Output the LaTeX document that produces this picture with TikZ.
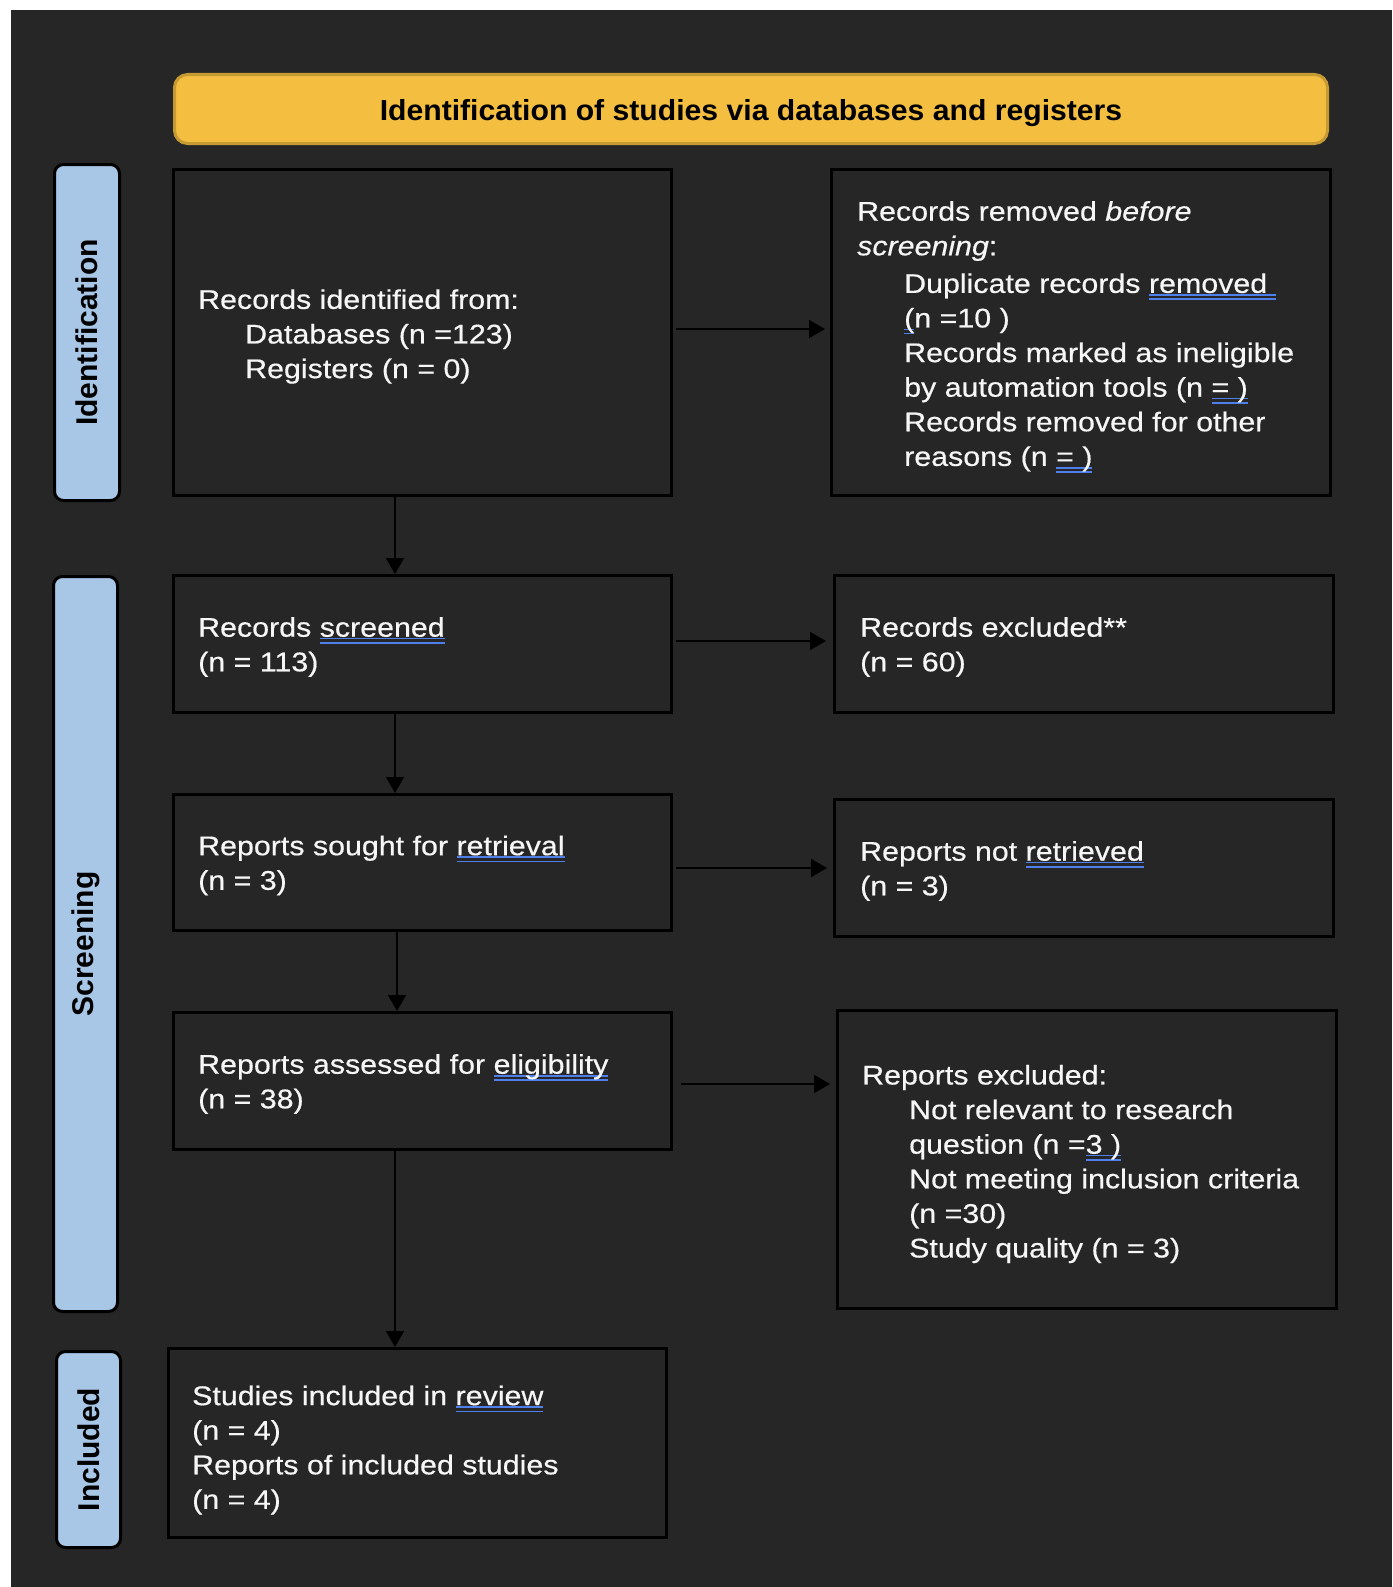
\documentclass[tikz,border=0pt]{standalone}
\usepackage{fontspec}
\setmainfont{Liberation Sans}[FakeStretch=1.125,FakeBold=0.5]
\newfontfamily\hdfont{Liberation Sans}[FakeStretch=1.04]
\newfontfamily\labfont{Liberation Sans}
\usetikzlibrary{arrows.meta,calc}
\definecolor{bg}{HTML}{262626}
\definecolor{hdfill}{HTML}{F4BF41}
\definecolor{hdline}{HTML}{C69A32}
\definecolor{labfill}{HTML}{A8C6E6}
\definecolor{txtcol}{HTML}{F6F6F6}
\definecolor{spell}{HTML}{4F7FEA}
\newsavebox\spbox
\newcommand\spl[1]{\sbox\spbox{#1}\rlap{\color{spell}\rule[-2.8pt]{\wd\spbox}{1.6pt}}\rlap{\color{spell}\rule[-7pt]{\wd\spbox}{1.6pt}}\usebox\spbox}
\newcommand\ind{\hspace*{47pt}}
\tikzset{
  box/.style={draw=black, line width=3pt, fill=bg, rectangle, inner sep=0pt},
  lab/.style={draw=black, line width=3pt, fill=labfill, rounded corners=9pt, rotate=90,
    inner sep=0pt, font=\labfont\bfseries\fontsize{30}{36}\selectfont, text=black},
  txtblock/.style={text=txtcol, align=left, inner sep=0pt, anchor=west,
    font=\fontsize{27}{34.6}\selectfont},
  arr/.style={draw=black, line width=1.6pt, -{Triangle[length=16pt,width=18pt]}},
}
\begin{document}
\begin{tikzpicture}[x=1pt,y=-1pt]
\useasboundingbox (0,0) rectangle (1392,1587);
\fill[white] (0,0) rectangle (1392,1587);
\fill[bg] (11,10) rectangle (1392,1587);

% header
\node[draw=hdline, line width=3pt, fill=hdfill, rounded corners=13pt,
      minimum width=1153pt, minimum height=69pt, inner sep=0pt] (hd) at (751,109) {};
\node[inner sep=0pt, font=\hdfont\bfseries\fontsize{29}{32}\selectfont, text=black] (hdt)
      at ([yshift=-4pt]hd.center) {Identification of studies via databases and registers};

% side labels
\node[lab, minimum width=336pt, minimum height=65pt] (lid) at (87,332.5) {Identification};
\node[lab, minimum width=735pt, minimum height=64pt] (lsc) at (85.5,944) {Screening};
\node[lab, minimum width=196pt, minimum height=64pt] (lin) at (88.5,1449.5) {Included};

% boxes
\node[box, minimum width=498pt, minimum height=326pt] (b1) at (422.5,332.5) {};
\node[box, minimum width=499pt, minimum height=326pt] (r1) at (1081,332.5) {};
\node[box, minimum width=498pt, minimum height=137pt] (b2) at (422.5,644) {};
\node[box, minimum width=499pt, minimum height=137pt] (r2) at (1084,644) {};
\node[box, minimum width=498pt, minimum height=136pt] (b3) at (422.5,862.5) {};
\node[box, minimum width=499pt, minimum height=137pt] (r3) at (1084,868) {};
\node[box, minimum width=498pt, minimum height=137pt] (b4) at (422.5,1081) {};
\node[box, minimum width=499pt, minimum height=298pt] (r4) at (1087,1159.5) {};
\node[box, minimum width=498pt, minimum height=189pt] (b5) at (417.5,1443) {};

% texts
\node[txtblock] (t1) at ([xshift=26pt,yshift=-4pt]b1.west)
  {Records identified from:\\ \ind Databases (n =123)\\ \ind Registers (n = 0)};
\node[txtblock] (tr1) at ([xshift=27pt,yshift=-4.5pt]r1.west)
  {Records removed \textit{before}\\ \textit{screening}:\\[3pt]
   \ind Duplicate records \spl{removed\ }\\ \ind\spl{(}n =10 )\\
   \ind Records marked as ineligible\\ \ind by automation tools (n \spl{=\ )}\\
   \ind Records removed for other\\ \ind reasons (n \spl{=\ )}};
\node[txtblock] (t2) at ([xshift=26pt,yshift=-3pt]b2.west) {Records \spl{screened}\\ (n = 113)};
\node[txtblock] (tr2) at ([xshift=27pt,yshift=-3pt]r2.west) {Records excluded**\\ (n = 60)};
\node[txtblock] (t3) at ([xshift=26pt,yshift=-3pt]b3.west) {Reports sought for \spl{retrieval}\\ (n = 3)};
\node[txtblock] (tr3) at ([xshift=27pt,yshift=-3pt]r3.west) {Reports not \spl{retrieved}\\ (n = 3)};
\node[txtblock] (t4) at ([xshift=26pt,yshift=-3pt]b4.west) {Reports assessed for \spl{eligibility}\\ (n = 38)};
\node[txtblock] (tr4) at ([xshift=26pt,yshift=-4.5pt]r4.west)
  {Reports excluded:\\ \ind Not relevant to research\\ \ind question (n =\spl{3\ )}\\
   \ind Not meeting inclusion criteria\\ \ind (n =30)\\ \ind Study quality (n = 3)};
\node[txtblock] (t5) at ([xshift=25pt,yshift=-7pt]b5.west)
  {Studies included in \spl{review}\\ (n = 4)\\ Reports of included studies\\ (n = 4)};

% arrows
\draw[arr, shorten <=3pt, shorten >=5pt] ([yshift=3.5pt]b1.east) -- ([yshift=3.5pt]b1.east -| r1.west);
\draw[arr, shorten <=3pt, shorten >=7pt] ([yshift=3pt]b2.east) -- ([yshift=3pt]b2.east -| r2.west);
\draw[arr, shorten <=3pt, shorten >=6pt] (b3.east |- r3.west) -- (r3.west);
\draw[arr, shorten <=8pt, shorten >=6pt] ([yshift=-3pt]b4.east) -- ([yshift=-3pt]b4.east -| r4.west);

\draw[arr] ([xshift=-27.5pt]b1.south) -- ([xshift=-27.5pt]b1.south |- b2.north);
\draw[arr] ([xshift=-27.5pt]b2.south) -- ([xshift=-27.5pt]b2.south |- b3.north);
\draw[arr] ([xshift=-25.5pt]b3.south) -- ([xshift=-25.5pt]b3.south |- b4.north);
\draw[arr] ([xshift=-27.5pt]b4.south) -- ([xshift=-27.5pt]b4.south |- b5.north);
\end{tikzpicture}
\end{document}
